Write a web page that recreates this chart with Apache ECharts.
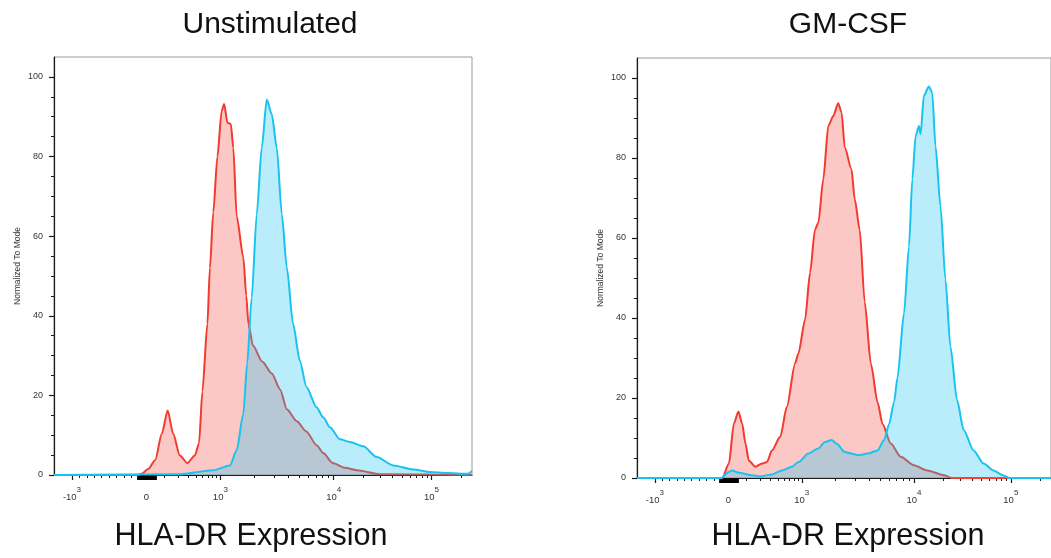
<!DOCTYPE html>
<html><head><meta charset="utf-8">
<script src="https://cdn.jsdelivr.net/npm/echarts@6/dist/echarts.min.js"></script>
<style>html,body{margin:0;padding:0;background:#fff}#c{width:1051px;height:558px}</style>
</head><body><div id="c"></div>
<script>
// ---- text ----
const panelTitles = ['Unstimulated', 'GM-CSF'];
const xAxisTitle = 'HLA-DR Expression';
const yAxisTitle = 'Normalized To Mode';

// ---- axis ticks (x axis in display channels 0-1000 of the biexponential scale) ----
const tickLabels = ['-10^3', '0', '10^3', '10^4', '10^5'];
const tickChannels = [43, 221, 398, 669, 903];
const yTickValues = [0, 20, 40, 60, 80, 100];

// ---- Unstimulated panel ----
const unstimRedX = [0, 200, 210, 225, 242, 258, 272, 285, 301, 319, 337, 347, 355, 367, 373, 381, 391, 401, 407, 415, 423, 429, 437, 453, 460, 465, 476, 498, 521, 541, 557, 581, 603, 629, 644, 667, 696, 725, 780, 1000];
const unstimRedY = [0, 0, 0.3, 1.5, 3.7, 10.4, 16.2, 10.4, 4.9, 3.0, 4.9, 8, 21, 38, 52, 66, 80, 91.4, 93.2, 88.5, 88.2, 82.2, 65, 54.6, 45, 38, 32.5, 28.5, 25.5, 21.5, 16.5, 13.5, 11, 7.4, 5.5, 3, 1.8, 1.2, 0.2, 0];
const unstimCyanX = [0, 300, 381, 421, 437, 453, 462, 473, 485, 497, 509, 521, 533, 545, 557, 572, 588, 604, 628, 644, 660, 684, 708, 740, 772, 812, 860, 900, 940, 990, 1000];
const unstimCyanY = [0, 0.2, 1.2, 2.4, 6.2, 15.4, 27.9, 44.6, 65.5, 82.2, 94.3, 90.6, 82.2, 65.5, 52.1, 37.9, 28.7, 22.1, 17.0, 14.5, 12.0, 9.0, 8.3, 7.2, 4.5, 2.4, 1.4, 0.75, 0.5, 0.3, 1.0];

// ---- GM-CSF panel ----
const gmRedX = [0, 206, 222, 234, 245, 254, 262, 270, 286, 302, 314, 326, 346, 362, 382, 390, 406, 418, 430, 438, 450, 462, 474, 486, 494, 502, 518, 526, 538, 550, 565, 581, 593, 613, 637, 669, 701, 741, 761, 1000];
const gmRedY = [0, 0, 3.6, 13.6, 16.6, 13.6, 8.6, 4.4, 2.8, 3.6, 4.0, 6.9, 10.3, 17.8, 28.7, 31.2, 39.6, 51.3, 62.1, 63.8, 74.7, 88.0, 90.5, 93.7, 91.4, 82.6, 77.2, 69.7, 62.0, 44.0, 28.5, 19.0, 13.5, 8.6, 5.3, 3.2, 1.9, 0.7, 0, 0];
const gmCyanX = [0, 203, 222, 230, 246, 278, 298, 326, 350, 374, 390, 414, 438, 454, 470, 482, 502, 518, 534, 557, 581, 597, 609, 621, 629, 645, 657, 665, 673, 681, 685, 693, 705, 713, 721, 733, 745, 757, 773, 789, 813, 837, 861, 884, 900, 1000];
const gmCyanY = [0, 0, 1.5, 1.9, 1.3, 0.7, 0.4, 0.9, 1.9, 2.8, 4.0, 6.1, 7.4, 9.0, 9.5, 8.6, 6.5, 6.1, 5.7, 6.1, 6.9, 9.5, 13.5, 19, 25, 41.2, 57.9, 74.7, 85.5, 88.0, 86.0, 95.6, 97.9, 96.4, 83.0, 68.0, 49.6, 32.9, 19.5, 12.0, 6.9, 3.6, 1.9, 0.7, 0, 0];

// ---- build ----
const zip = (xs, ys) => xs.map((x, i) => [x, ys[i]]);
const panels = [
  { red: zip(unstimRedX, unstimRedY), cyan: zip(unstimCyanX, unstimCyanY) },
  { red: zip(gmRedX, gmRedY), cyan: zip(gmCyanX, gmCyanY) }
];

function minorXTicks() {
  const [pm, p0, p3, p4, p5] = tickChannels;
  const out = [];
  for (let k = 1; k <= 9; k++) out.push(pm + (p0 - pm) * k / 10);
  const dSmall = 191;
  for (let k = 2; k <= 9; k++) out.push(p3 - dSmall * (1 - Math.log10(k)));
  for (let k = 2; k <= 9; k++) out.push(p3 + (p4 - p3) * Math.log10(k));
  for (let k = 2; k <= 9; k++) out.push(p4 + (p5 - p4) * Math.log10(k));
  out.push(p5 + (p5 - p4) * Math.log10(2));
  return out;
}
const minorX = minorXTicks();
const zeroCluster = [];
for (let v = 201; v <= 244; v += 2) zeroCluster.push(v);
const minorY = [];
for (let v = 5; v < 100; v += 5) if (v % 20) minorY.push(v);

function fmtX(val) {
  let idx = 0, best = 1e9;
  tickChannels.forEach((c, i) => { if (Math.abs(c - val) < best) { best = Math.abs(c - val); idx = i; } });
  const s = tickLabels[idx];
  if (s.indexOf('^') < 0) return '{b|' + s + '}';
  const p = s.split('^');
  return '{b|' + p[0] + '}{s|' + p[1] + '}';
}

const gridsPos = [
  { left: 54, top: 57, width: 418, height: 418 },
  { left: 637, top: 58, width: 418, height: 420 }
];
const grids = [], xAxes = [], yAxes = [], series = [], graphics = [];
const ink = '#1a1a1a';
gridsPos.forEach((gp, g) => {
  grids.push(Object.assign({ show: true, borderColor: '#9a9a9a', borderWidth: 1, backgroundColor: 'transparent' }, gp));
  xAxes.push({
    type: 'value', gridIndex: g, min: 0, max: 1000, position: 'bottom', offset: 0,
    axisLine: { show: true, onZero: false, lineStyle: { color: ink, width: 1.2 } },
    axisTick: { show: true, inside: false, customValues: tickChannels, length: 5, lineStyle: { color: ink, width: 1.2 } },
    axisLabel: {
      customValues: tickChannels, formatter: fmtX, margin: 11, color: '#333',
      rich: {
        b: { fontSize: 9.5, fontFamily: 'Liberation Sans', color: '#333', verticalAlign: 'bottom', lineHeight: 16 },
        s: { fontSize: 8, fontFamily: 'Liberation Sans', color: '#333', verticalAlign: 'top' }
      }
    },
    splitLine: { show: false }
  });
  xAxes.push({
    type: 'value', gridIndex: g, min: 0, max: 1000, position: 'bottom', offset: 0,
    axisLine: { show: false, onZero: false },
    axisTick: { show: true, inside: false, customValues: minorX, length: 3, lineStyle: { color: ink, width: 1 } },
    axisLabel: { show: false }, splitLine: { show: false }
  });
  xAxes.push({
    type: 'value', gridIndex: g, min: 0, max: 1000, position: 'bottom', offset: 0,
    axisLine: { show: false, onZero: false },
    axisTick: { show: true, inside: false, customValues: zeroCluster, length: 5, lineStyle: { color: '#000', width: 1.8 } },
    axisLabel: { show: false }, splitLine: { show: false }
  });
  yAxes.push({
    type: 'value', gridIndex: g, min: 0, max: 105, position: 'left', offset: 0,
    name: yAxisTitle, nameLocation: 'middle', nameGap: 32,
    nameTextStyle: { fontSize: 8.5, fontFamily: 'Liberation Sans', color: '#333' },
    axisLine: { show: true, onZero: false, lineStyle: { color: ink, width: 1.2 } },
    axisTick: { show: true, customValues: yTickValues, length: 5, lineStyle: { color: ink, width: 1.2 } },
    axisLabel: { customValues: yTickValues, fontSize: 9, fontFamily: 'Liberation Sans', color: '#333', margin: 11 },
    splitLine: { show: false }
  });
  yAxes.push({
    type: 'value', gridIndex: g, min: 0, max: 105, position: 'left', offset: 0,
    axisLine: { show: false, onZero: false },
    axisTick: { show: true, customValues: minorY, length: 3, lineStyle: { color: ink, width: 1 } },
    axisLabel: { show: false }, splitLine: { show: false }
  });
  series.push({
    type: 'line', xAxisIndex: g * 3, yAxisIndex: g * 2, data: panels[g].red,
    symbol: 'none', silent: true, smooth: 0.25, smoothMonotone: 'x',
    lineStyle: { color: '#f23a2e', width: 2 },
    areaStyle: { color: 'rgba(240,64,58,0.41)', origin: 'start' }, z: 2
  });
  series.push({
    type: 'line', xAxisIndex: g * 3, yAxisIndex: g * 2, data: panels[g].cyan,
    symbol: 'none', silent: true, smooth: 0.25, smoothMonotone: 'x',
    lineStyle: { color: '#19c3ef', width: 2 },
    areaStyle: { color: 'rgba(30,197,242,0.44)', origin: 'start' }, z: 3
  });
});

const titleCenters = [[270, 25], [848, 25]];
const xTitleCenters = [[251, 537], [848, 537]];
titleCenters.forEach((c, g) => {
  graphics.push({ type: 'text', x: c[0], y: c[1], style: { text: panelTitles[g], font: '30px "Liberation Sans"', fill: '#111', align: 'center', verticalAlign: 'middle', textAlign: 'center', textVerticalAlign: 'middle' } });
  graphics.push({ type: 'text', x: xTitleCenters[g][0], y: xTitleCenters[g][1], style: { text: xAxisTitle, font: '30.5px "Liberation Sans"', fill: '#111', align: 'center', verticalAlign: 'middle', textAlign: 'center', textVerticalAlign: 'middle' } });
});

const chart = echarts.init(document.getElementById('c'), null, { renderer: 'canvas' });
chart.setOption({
  animation: false,
  backgroundColor: '#fff',
  grid: grids, xAxis: xAxes, yAxis: yAxes, series: series, graphic: graphics
});
</script></body></html>
